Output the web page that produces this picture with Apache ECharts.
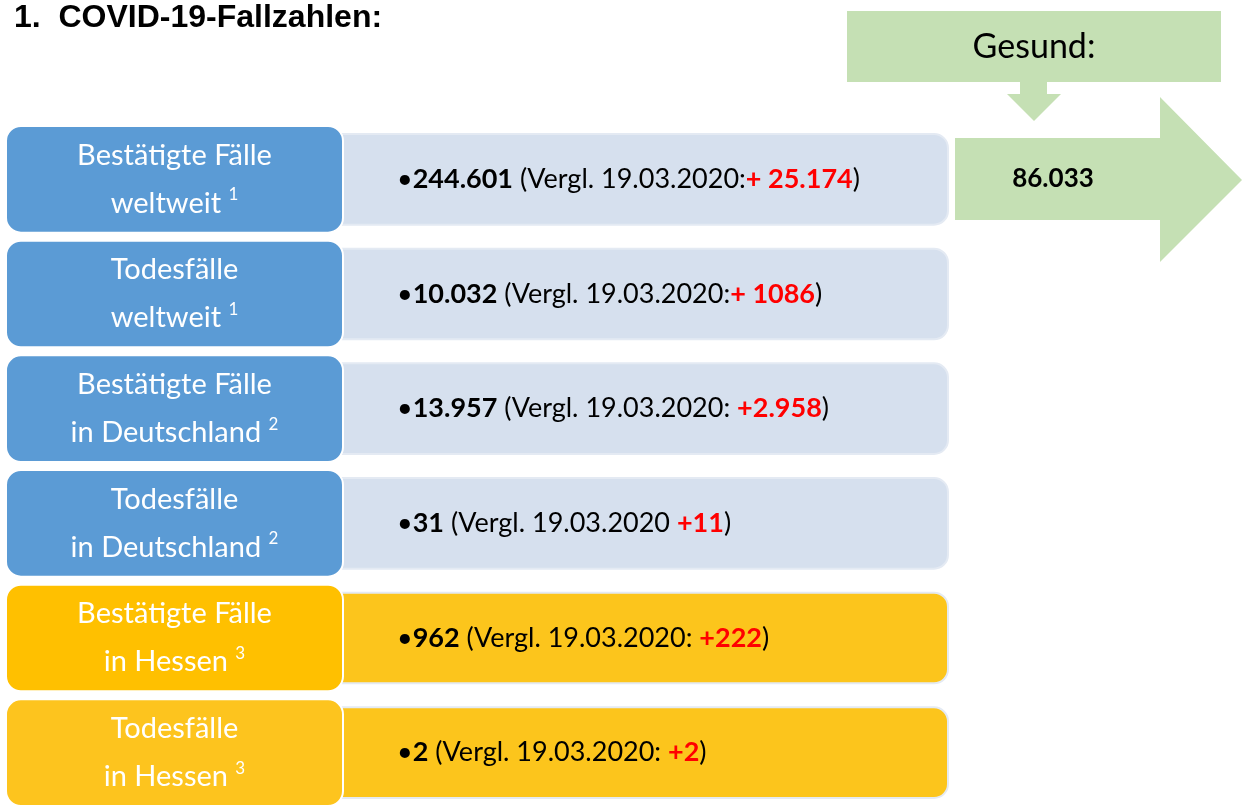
<!DOCTYPE html>
<html>
<head>
    <meta charset="utf-8">
    <title>COVID-19-Fallzahlen</title>
    <script src="https://cdn.jsdelivr.net/npm/echarts@6/dist/echarts.min.js"></script>
    <style>
        html, body { margin: 0; padding: 0; background: #fff; }
        #chart1 { width: 1242px; height: 810px; }
    </style>
</head>
<body>
<div id="chart1"></div>
<script type="text/javascript">
    // Zeilen (oben nach unten)
    var titleLine1 = ['Bestätigte Fälle', 'Todesfälle', 'Bestätigte Fälle', 'Todesfälle', 'Bestätigte Fälle', 'Todesfälle'];
    var titleLine2 = ['weltweit', 'weltweit', 'in Deutschland', 'in Deutschland', 'in Hessen', 'in Hessen'];
    var sources = ['1', '1', '2', '2', '3', '3'];
    var cases = ['244.601', '10.032', '13.957', '31', '962', '2'];
    var compare = ['(Vergl. 19.03.2020:', '(Vergl. 19.03.2020:', '(Vergl. 19.03.2020: ', '(Vergl. 19.03.2020 ', '(Vergl. 19.03.2020: ', '(Vergl. 19.03.2020: '];
    var changes = ['+ 25.174', '+ 1086', '+2.958', '+11', '+222', '+2'];
    var recovered = '86.033';

    var FONT = 'Lato, "Open Sans", sans-serif';
    var leftColors = ['#5B9BD5', '#5B9BD5', '#5B9BD5', '#5B9BD5', '#FFC000', '#FDC41E'];
    var rightColors = ['#D6E0EE', '#D6E0EE', '#D6E0EE', '#D6E0EE', '#FCC51C', '#FCC51C'];

    var myChart = echarts.init(document.getElementById('chart1'));

    var rows = cases.map(function (c, i) { return [0, i]; });

    function renderRow(params, api) {
        var i = params.dataIndex;
        var cy = api.coord([0, api.value(1)])[1];
        var band = api.size([0, 1])[1];
        var lh = band * 0.93;
        var rh = band * 0.79;
        var lx = api.coord([6, 0])[0];
        var rx = api.coord([338, 0])[0];
        var rEnd = api.coord([948, 0])[0];
        var lEnd = api.coord([343, 0])[0];
        var mid = (lx + lEnd) / 2;
        return {
            type: 'group',
            children: [{
                type: 'rect',
                shape: { x: rx, y: cy - rh / 2, width: rEnd - rx, height: rh, r: [0, 14, 14, 0] },
                style: { fill: rightColors[i], stroke: '#E4EAF3', lineWidth: 2 }
            }, {
                type: 'rect',
                shape: { x: lx, y: cy - lh / 2, width: lEnd - lx, height: lh, r: 15 },
                style: { fill: leftColors[i], stroke: '#ffffff', lineWidth: 2 }
            }, {
                type: 'text',
                style: {
                    x: mid, y: cy - 24, text: titleLine1[i], fill: '#fff',
                    font: '29px ' + FONT, align: 'center', verticalAlign: 'middle'
                }
            }, {
                type: 'text',
                style: {
                    x: mid, y: cy + 24,
                    text: '{t|' + titleLine2[i] + ' }{s|' + sources[i] + '}',
                    align: 'center', verticalAlign: 'middle',
                    rich: {
                        t: { fontFamily: FONT, fontSize: 29, fill: '#fff', lineHeight: 34 },
                        s: { fontFamily: FONT, fontSize: 17, fill: '#fff', verticalAlign: 'top', lineHeight: 34 }
                    }
                }
            }, {
                type: 'text',
                style: {
                    x: 397, y: cy,
                    text: '{n|•}{b|' + cases[i] + '}{n| ' + compare[i] + '}{r|' + changes[i] + '}{n|)}',
                    verticalAlign: 'middle',
                    rich: {
                        n: { fontFamily: FONT, fontSize: 27, fill: '#000' },
                        b: { fontFamily: FONT, fontSize: 27, fontWeight: 'bold', fill: '#000' },
                        r: { fontFamily: FONT, fontSize: 27, fontWeight: 'bold', fill: '#FF0000' }
                    }
                }
            }]
        };
    }

    var option = {
        animation: false,
        grid: { left: 0, right: 0, top: 122, height: 696 },
        xAxis: { type: 'value', min: 0, max: 1242, show: false },
        yAxis: { type: 'category', inverse: true, data: cases, show: false },
        graphic: [
            { type: 'text', style: { x: 14, y: 18, text: '1.  COVID-19-Fallzahlen:', font: 'bold 32px "Liberation Sans", Arial, sans-serif', fill: '#000', verticalAlign: 'middle' } },
            { type: 'rect', shape: { x: 847, y: 11, width: 374, height: 71 }, style: { fill: '#C5E0B4' } },
            { type: 'polygon', shape: { points: [[1020, 82], [1047, 82], [1047, 94], [1061, 94], [1034, 121], [1007, 94], [1020, 94]] }, style: { fill: '#C5E0B4' } },
            { type: 'polygon', shape: { points: [[955, 138], [1160, 138], [1160, 97], [1242, 180], [1160, 262], [1160, 220], [955, 220]] }, style: { fill: '#C5E0B4' } },
            { type: 'text', style: { x: 1034, y: 47, text: 'Gesund:', font: '34px ' + FONT, fill: '#000', align: 'center', verticalAlign: 'middle' } },
            { type: 'text', style: { x: 1053, y: 179, text: recovered, font: 'bold 26px ' + FONT, fill: '#000', align: 'center', verticalAlign: 'middle' } }
        ],
        series: [{
            type: 'custom',
            renderItem: renderRow,
            data: rows,
            encode: { x: 0, y: 1 }
        }]
    };
    myChart.setOption(option);
</script>
</body>
</html>
